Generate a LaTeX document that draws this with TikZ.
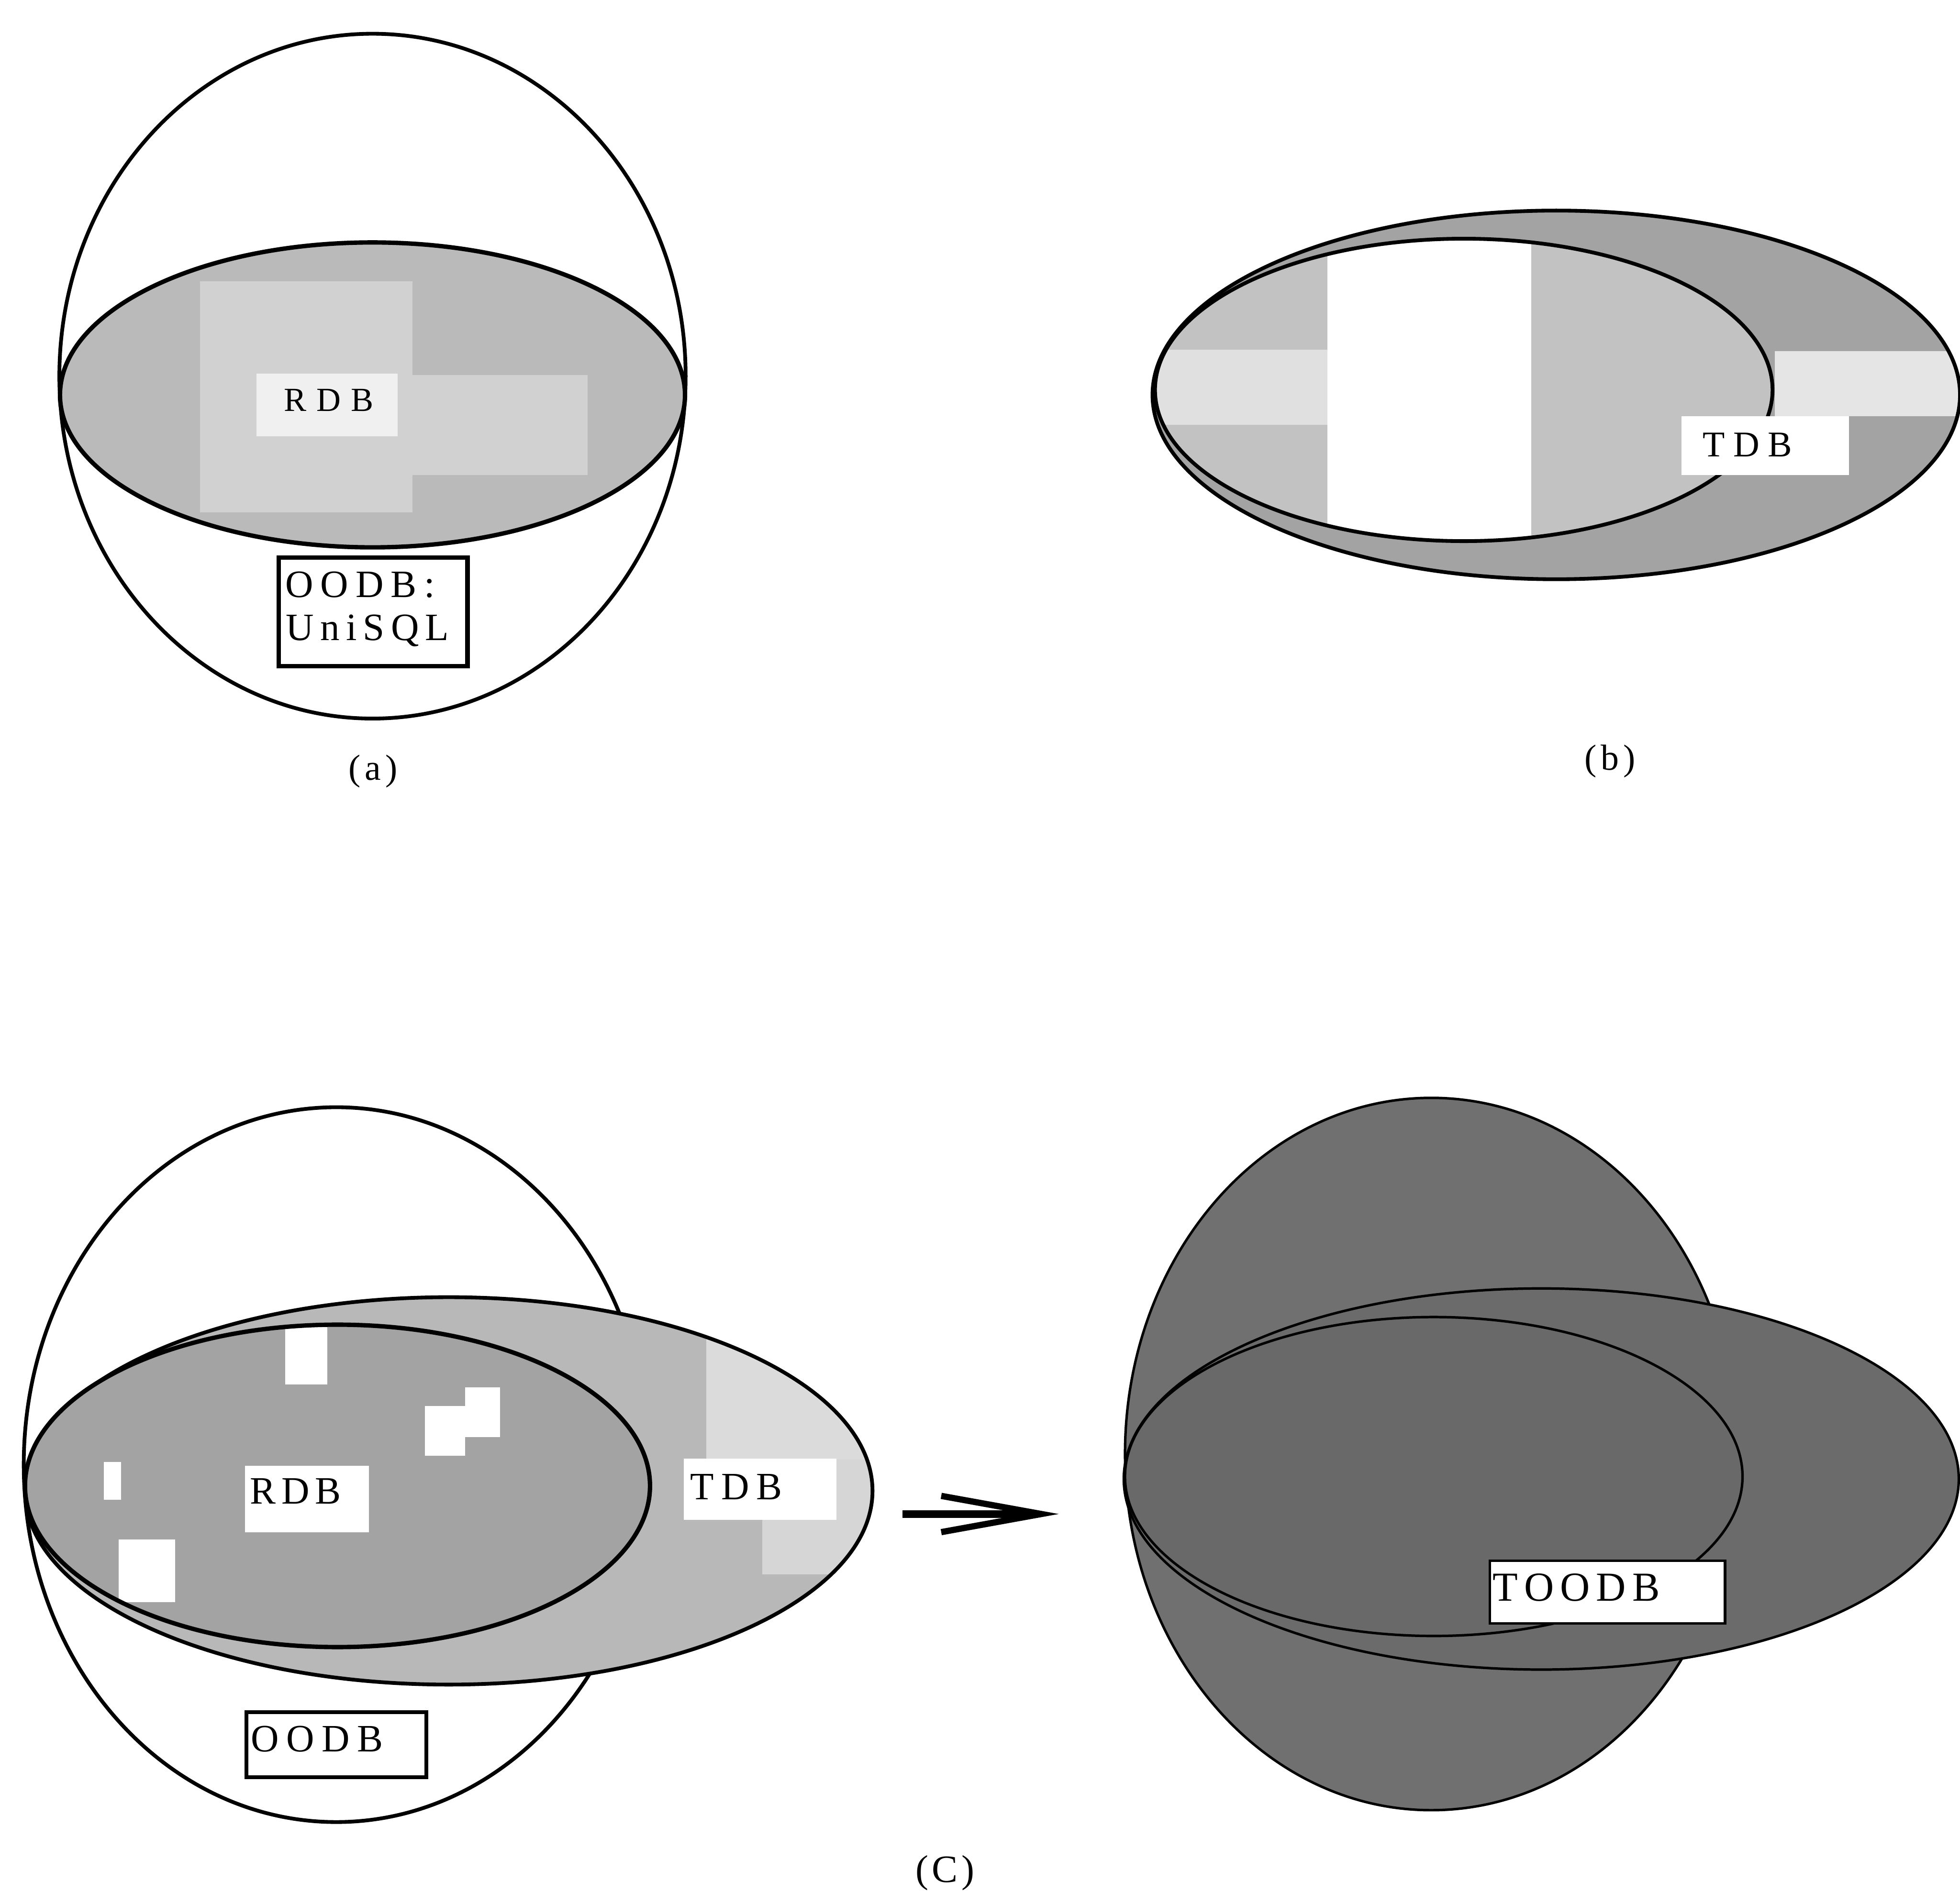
\documentclass[tikz,border=0pt]{standalone}
\usepackage{fontspec}
\setmainfont{Liberation Serif}
\usetikzlibrary{arrows.meta}

% letter spacing between capitals, in pt
\newcommand\lsp[1]{\hspace{#1pt}}

\tikzset{
  outline/.style={draw=black, line width=3pt},
  thinline/.style={draw=black, line width=2pt},
  lbl/.style={inner sep=0pt, anchor=base west},
  caption/.style={inner sep=0pt, anchor=base},
  tagbox/.style={draw=black, line width=3.5pt, fill=white, inner sep=0pt},
  patch/.style={fill=white, draw=none, inner sep=0pt},
}

\begin{document}
\begin{tikzpicture}[x=1pt, y=-1pt]
\useasboundingbox (0,0) rectangle (1568,1514.6);
\fill[white] (0,0) rectangle (1568,1514.6);

% ---------------- (a) RDB inside OODB ----------------
\path[outline, fill=white] (298,301) ellipse [x radius=250.5pt, y radius=274pt];
\begin{scope}
  \clip (298,316) ellipse [x radius=250pt, y radius=122pt];
  \fill[black!27] (40,180) rectangle (560,450);
  \fill[black!18] (160,225) rectangle (330,410);
  \fill[black!18] (330,300) rectangle (470,380);
  \fill[black!6] (205,299) rectangle (318,349);
\end{scope}
\path[outline, line width=3.5pt] (298,316) ellipse [x radius=250pt, y radius=122pt];
\node[lbl, font=\fontsize{27}{30}\selectfont] (rdbA) at (227,329) {R\lsp{8}D\lsp{8}B};
\node[tagbox, minimum width=151pt, minimum height=87pt] (uniBox) at (298.5,489.5) {};
\node[lbl, font=\fontsize{31}{34}\selectfont] (oodbA) at (228,478) {O\lsp{5.8}O\lsp{5.8}D\lsp{5.8}B\lsp{5.8}:};
\node[lbl, font=\fontsize{31}{34}\selectfont] (uniA) at (228.5,512.5) {U\lsp{5.1}n\lsp{5.1}i\lsp{5.1}S\lsp{5.1}Q\lsp{5.1}L};
\node[caption, font=\fontsize{29}{32}\selectfont] (capA) at (298.5,624) {(\lsp{3.5}a\lsp{3.5})};

% ---------------- (b) RDB inside TDB ----------------
\begin{scope}
  \clip (1245,316) ellipse [x radius=323pt, y radius=147.5pt];
  \fill[black!36] (900,160) rectangle (1580,470);
  \fill[black!10] (1420,281) rectangle (1580,333);
\end{scope}
\begin{scope}
  \clip (1171,312) ellipse [x radius=247pt, y radius=121pt];
  \fill[black!24] (900,180) rectangle (1430,440);
  \fill[black!12] (925,280) rectangle (1062,340);
  \fill[white] (1062,180) rectangle (1225,440);
\end{scope}
\path[outline] (1171,312) ellipse [x radius=247pt, y radius=121pt];
\path[outline] (1245,316) ellipse [x radius=323pt, y radius=147.5pt];
\node[patch, minimum width=134pt, minimum height=47pt] (tdbPatchB) at (1412,356.5) {};
\node[lbl, font=\fontsize{29}{32}\selectfont] (tdbB) at (1362,365.3) {T\lsp{6.8}D\lsp{6.8}B};
\node[caption, font=\fontsize{29}{32}\selectfont] (capB) at (1288,616) {(\lsp{3.5}b\lsp{3.5})};

% ---------------- (c) left: RDB, TDB and OODB ----------------
\path[outline, fill=white] (269,1172) ellipse [x radius=250pt, y radius=286pt];
\begin{scope}
  \clip (359,1193) ellipse [x radius=339pt, y radius=155pt];
  \fill[black!28] (0,1020) rectangle (710,1360);
  \fill[black!14] (565,1030) rectangle (710,1168);
  \fill[black!16] (610,1168) rectangle (710,1260);
\end{scope}
\path[outline] (359,1193) ellipse [x radius=339pt, y radius=155pt];
\begin{scope}
  \clip (270,1189) ellipse [x radius=250pt, y radius=129pt];
  \fill[black!36] (0,1040) rectangle (540,1330);
  \fill[white] (228,1058) rectangle (262,1108);
  \fill[white] (340,1125) rectangle (372,1165);
  \fill[white] (372,1110) rectangle (400,1150);
  \fill[white] (95,1232) rectangle (140,1282);
  \fill[white] (83,1170) rectangle (97,1200);
\end{scope}
\path[outline, line width=3.5pt] (270,1189) ellipse [x radius=250pt, y radius=129pt];
\node[patch, minimum width=99pt, minimum height=53pt] (rdbPatchC) at (245.5,1199.5) {};
\node[patch, minimum width=122pt, minimum height=49pt] (tdbPatchC) at (608,1191.5) {};
\node[lbl, font=\fontsize{31}{34}\selectfont] (rdbC) at (200,1203.3) {R\lsp{4.4}D\lsp{4.4}B};
\node[lbl, font=\fontsize{31}{34}\selectfont] (tdbC) at (552,1200) {T\lsp{5.8}D\lsp{5.8}B};
\node[tagbox, line width=3pt, minimum width=144pt, minimum height=52pt] (oodbBox) at (269,1396) {};
\node[lbl, font=\fontsize{31}{34}\selectfont] (oodbC) at (200.6,1401.7) {O\lsp{6}O\lsp{6}D\lsp{6}B};

% ---------------- arrow ----------------
\coordinate (arrowTail) at (722,1211.5);
\coordinate (arrowTip) at (847,1211.5);
\draw[line width=6pt, -{Straight Barb[length=80pt, width=29pt, line width=5pt]}] (arrowTail) -- (arrowTip);

% ---------------- (c) right: TOODB ----------------
\path[thinline, fill=black!56] (1145,1163.5) ellipse [x radius=245pt, y radius=285pt];
\path[thinline, fill=black!58] (1233,1183.5) ellipse [x radius=334pt, y radius=152.5pt];
\path[thinline, fill=black!59] (1147,1181.5) ellipse [x radius=247pt, y radius=127.6pt];
\node[tagbox, line width=2pt, minimum width=188pt, minimum height=50pt] (toodbBox) at (1286,1274) {};
\node[lbl, font=\fontsize{33}{36}\selectfont] (toodb) at (1194,1281) {T\lsp{5}O\lsp{5}O\lsp{5}D\lsp{5}B};

\node[caption, font=\fontsize{31}{34}\selectfont] (capC) at (756,1506) {(\lsp{3}C\lsp{3})};
\end{tikzpicture}
\end{document}
